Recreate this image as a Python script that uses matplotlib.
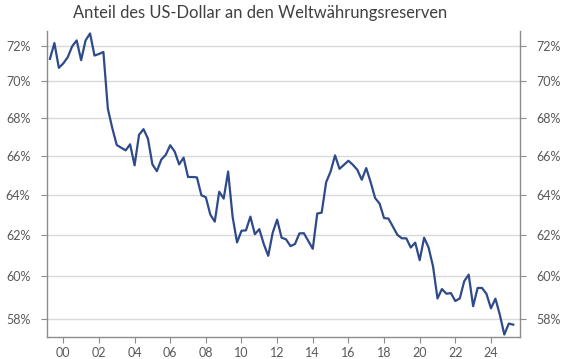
import matplotlib
matplotlib.use("Agg")
import matplotlib.pyplot as plt
from matplotlib.ticker import FixedLocator, NullLocator, FixedFormatter
import numpy as np

# Quarterly USD share of global FX reserves (%)
usd_share = [
    71.25, 72.15, 70.75, 71.0, 71.35, 71.97, 72.3, 71.18, 72.3, 72.7,
    71.44, 71.53, 71.64, 68.5, 67.45, 66.56, 66.42, 66.28, 66.6, 65.5,
    67.1, 67.4, 66.9, 65.55, 65.2, 65.8, 66.05, 66.55, 66.22, 65.55,
    65.9, 64.9, 64.9, 64.88, 63.97, 63.87, 63.0, 62.65, 64.15, 63.8,
    65.18, 62.9, 61.63, 62.2, 62.22, 62.9, 62.03, 62.28, 61.55, 60.98,
    62.1, 62.75, 61.86, 61.78, 61.45, 61.55, 62.07, 62.08, 61.7, 61.32,
    63.05, 63.1, 64.63, 65.18, 66.02, 65.32, 65.53, 65.74, 65.53, 65.27,
    64.76, 65.36, 64.63, 63.83, 63.55, 62.83, 62.8, 62.4, 62.0, 61.83,
    61.83, 61.38, 61.62, 60.77, 61.86, 61.38, 60.47, 58.96, 59.4, 59.18,
    59.21, 58.84, 58.96, 59.77, 60.08, 58.6, 59.45, 59.45, 59.17, 58.5,
    58.95, 58.2, 57.3, 57.8, 57.75,
]
start_year = 1999.25
quarters = start_year + 0.25 * np.arange(len(usd_share))

tick_years = list(range(2000, 2025, 2))
tick_labels = [f"{y % 100:02d}" for y in tick_years]
y_ticks = [58, 60, 62, 64, 66, 68, 70, 72]
y_labels = [f"{v}%" for v in y_ticks]
title = "Anteil des US-Dollar an den Weltwährungsreserven"

W, H = 566, 359
fig = plt.figure(figsize=(W / 100, H / 100), dpi=100)
ax = fig.add_axes([47 / W, 1 - 337 / H, (520 - 47) / W, (337 - 31) / H])

plt.rcParams['font.family'] = ['Lato', 'DejaVu Sans']
font = 'Lato'

ax.set_yscale('log')
ax.set_ylim(57.19, 72.84)
ax.set_xlim(1999.085, 2025.63)

ax.yaxis.set_major_locator(FixedLocator(y_ticks))
ax.yaxis.set_major_formatter(FixedFormatter(y_labels))
ax.yaxis.set_minor_locator(NullLocator())
ax.set_xticks(tick_years)
ax.set_xticklabels(tick_labels)

ax.grid(axis='y', color='#d9d9d9', linewidth=1.0)
ax.set_axisbelow(True)

ax.plot(quarters, usd_share, color='#2e4a8b', linewidth=1.6, solid_joinstyle='round')

for s in ['left', 'right', 'bottom']:
    ax.spines[s].set_color('#8c8c8c')
    ax.spines[s].set_linewidth(1.0)
ax.spines['top'].set_visible(False)

ax.tick_params(axis='y', which='both', left=True, right=True, labelleft=True, labelright=True,
               direction='out', length=4, width=0.8, color='#8c8c8c',
               labelsize=9, labelcolor='#595959', pad=8)
ax.tick_params(axis='x', direction='out', length=4, width=0.8, color='#8c8c8c',
               labelsize=9, labelcolor='#595959', pad=3)
for lbl in ax.get_xticklabels() + ax.get_yticklabels():
    lbl.set_fontfamily(font)

fig.text(260 / W, 1 - 13 / H, title, ha='center', va='center', fontsize=11.9,
         color='#404040', fontfamily=font)

fig.savefig('out.png', dpi=100)
